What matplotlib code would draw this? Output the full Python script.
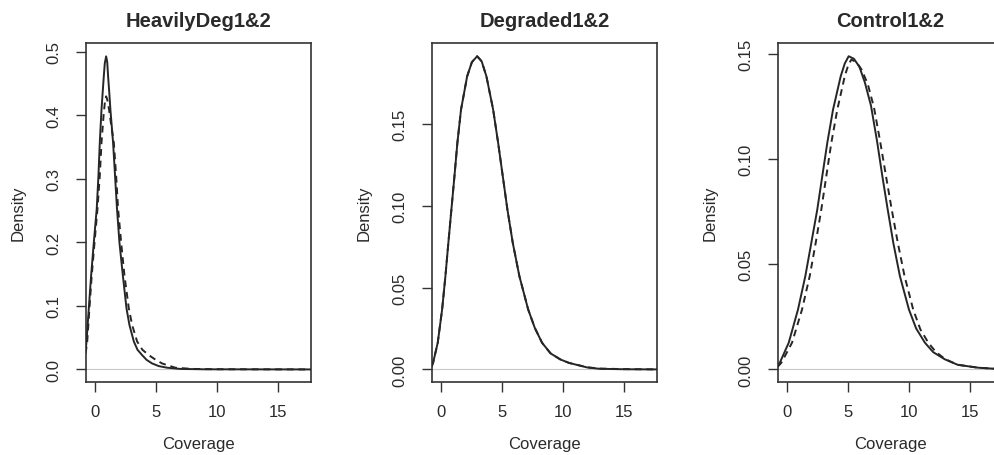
import matplotlib
matplotlib.use("Agg")
import matplotlib.pyplot as plt

plt.rcParams['font.family'] = ['Liberation Sans', 'DejaVu Sans']

# panel titles and y ticks
titles = ["HeavilyDeg1&2", "Degraded1&2", "Control1&2"]
yticks = [[0.0, 0.1, 0.2, 0.3, 0.4, 0.5],
          [0.00, 0.05, 0.10, 0.15],
          [0.00, 0.05, 0.10, 0.15]]
ytick_labels = [["0.0", "0.1", "0.2", "0.3", "0.4", "0.5"],
                ["0.00", "0.05", "0.10", "0.15"],
                ["0.00", "0.05", "0.10", "0.15"]]
xticks = [0, 5, 10, 15]
ylims = [(-0.0198, 0.514), (-0.0077, 0.1997), (-0.006, 0.1553)]

# HeavilyDeg: replicate 1 (solid) and replicate 2 (dashed)
heavy1_x = [-0.75, -0.68, -0.49, -0.3, -0.08, 0.16, 0.30, 0.41, 0.55, 0.66, 0.74, 0.82,
            0.93, 1.02, 1.09, 1.18, 1.28, 1.50, 1.66, 1.82, 2.02, 2.30, 2.60, 2.84,
            3.2, 3.5, 3.88, 4.25, 4.70, 5.25, 5.93, 7.0, 9.0, 17.8]
heavy1_y = [0.028, 0.044, 0.096, 0.148, 0.200, 0.253, 0.305, 0.357, 0.409, 0.440, 0.462, 0.482,
            0.493, 0.484, 0.462, 0.438, 0.409, 0.357, 0.305, 0.253, 0.200, 0.148, 0.096, 0.070,
            0.044, 0.031, 0.0225, 0.0150, 0.0094, 0.0052, 0.0027, 0.0008, 0.0002, 0.0]
heavy2_x = [-0.75, -0.62, -0.44, -0.25, -0.02, 0.22, 0.41, 0.55, 0.72, 0.85, 0.93, 1.02,
            1.17, 1.36, 1.56, 1.75, 1.91, 2.16, 2.43, 2.79, 3.06, 3.47, 3.9, 4.43, 5.0, 5.52,
            6.6, 8.0, 10.0, 17.8]
heavy2_y = [0.025, 0.044, 0.096, 0.148, 0.200, 0.253, 0.305, 0.357, 0.400, 0.425, 0.430, 0.425,
            0.409, 0.383, 0.357, 0.305, 0.253, 0.200, 0.148, 0.096, 0.070, 0.044, 0.031, 0.0225, 0.0150,
            0.0094, 0.0027, 0.0008, 0.0003, 0.0]

# Degraded: both replicates almost identical
deg1_x = [-0.74, -0.63, -0.25, 0.11, 0.38, 0.62, 0.87, 1.12, 1.36, 1.66, 2.16, 2.55,
          2.98, 3.35, 3.74, 4.29, 4.70, 5.08, 5.46, 5.90, 6.44, 7.16, 7.7, 8.30, 9.0,
          9.80, 10.5, 12.0, 13.0, 15.0, 17.8]
deg1_y = [0.002, 0.0041, 0.0163, 0.0367, 0.0571, 0.0774, 0.0978, 0.1182, 0.1386, 0.159, 0.1793, 0.1880,
          0.1916, 0.1885, 0.1793, 0.159, 0.1386, 0.1182, 0.0978, 0.0774, 0.0571, 0.0367, 0.0255, 0.0163,
          0.0098, 0.0061, 0.004, 0.0012, 0.0004, 0.0001, 0.0]
deg2_x = [-0.74, -0.63, -0.25, 0.11, 0.38, 0.62, 0.87, 1.12, 1.36, 1.66, 2.16, 2.55,
          2.98, 3.35, 3.74, 4.29, 4.70, 5.08, 5.46, 5.90, 6.44, 7.16, 7.7, 8.30, 9.0,
          9.80, 10.5, 12.0, 13.0, 15.0, 17.8]
deg2_y = [0.002, 0.0041, 0.0163, 0.0367, 0.0571, 0.0774, 0.0978, 0.1182, 0.1386, 0.159, 0.1793, 0.1880,
          0.1916, 0.1885, 0.1793, 0.159, 0.1386, 0.1182, 0.0978, 0.0774, 0.0571, 0.0367, 0.0255, 0.0163,
          0.0098, 0.0061, 0.004, 0.0013, 0.0005, 0.0002, 0.0]

# Control
ctrl1_x = [-0.75, -0.57, 0.16, 0.92, 1.52, 2.01, 2.50, 2.91, 3.32, 3.79, 4.42, 4.75,
           5.07, 5.5, 5.95, 6.4, 6.9, 7.4, 7.83, 8.27, 8.73, 9.27, 10.01, 10.6, 11.32,
           12.0, 12.95, 14.0, 15.68, 17.05, 17.8]
ctrl1_y = [0.0015, 0.0032, 0.0127, 0.0285, 0.0444, 0.0602, 0.0761, 0.0920, 0.1078, 0.1236, 0.1395, 0.1455,
           0.149, 0.1478, 0.1440, 0.1365, 0.1255, 0.1085, 0.0920, 0.0761, 0.0602, 0.0444, 0.0285, 0.0195,
           0.0127, 0.0082, 0.0048, 0.0022, 0.0008, 0.0003, 0.0002]
ctrl2_x = [-0.75, -0.44, 0.43, 1.25, 1.88, 2.37, 2.83, 3.24, 3.65, 4.14, 4.75, 5.05,
           5.29, 5.7, 6.15, 6.65, 7.15, 7.65, 8.13, 8.6, 9.1, 9.65, 10.36, 10.95, 11.6,
           12.2, 12.95, 14.0, 15.68, 17.05, 17.8]
ctrl2_y = [0.0012, 0.0032, 0.0127, 0.0285, 0.0444, 0.0602, 0.0761, 0.0920, 0.1078, 0.1236, 0.1395, 0.1450,
           0.1474, 0.1462, 0.1425, 0.1355, 0.1245, 0.1085, 0.0920, 0.0761, 0.0602, 0.0444, 0.0285, 0.0190,
           0.0127, 0.0084, 0.0050, 0.0022, 0.0008, 0.0003, 0.0002]

curves = [((heavy1_x, heavy1_y), (heavy2_x, heavy2_y)),
          ((deg1_x, deg1_y), (deg2_x, deg2_y)),
          ((ctrl1_x, ctrl1_y), (ctrl2_x, ctrl2_y))]

fig = plt.figure(figsize=(9.95, 4.56), dpi=100)
lefts = [86 / 995, 432 / 995, 778 / 995]
txt = "#2a2a2a"

for i in range(3):
    ax = fig.add_axes([lefts[i], 1 - 383 / 456, 225 / 995, 339 / 456])
    (sx, sy), (dx, dy) = curves[i]
    ax.axhline(0, color="#c8c8c8", lw=0.8, zorder=1)
    ax.plot(dx, dy, color="#262626", lw=1.4, dashes=(3.5, 2.5), zorder=2,
            solid_joinstyle="round")
    ax.plot(sx, sy, color="#262626", lw=1.4, zorder=3, solid_joinstyle="round")
    ax.set_xlim(-0.72, 17.72)
    ax.set_ylim(*ylims[i])
    ax.set_xticks(xticks)
    ax.set_xticklabels([str(t) for t in xticks])
    ax.set_yticks(yticks[i])
    ax.set_yticklabels(ytick_labels[i], rotation=90, va="center")
    for s in ax.spines.values():
        s.set_color("#333333")
        s.set_linewidth(1.2)
    ax.tick_params(direction="out", length=7, width=1.0, color="#333333",
                   labelsize=12, labelcolor=txt)
    ax.tick_params(axis="x", pad=9)
    ax.tick_params(axis="y", pad=11)
    ax.set_title(titles[i], fontsize=14.5, fontweight="bold", color=txt, pad=12)
    ax.set_xlabel("Coverage", fontsize=12, color=txt)
    ax.set_ylabel("Density", fontsize=12, color=txt)
    ax.xaxis.set_label_coords(0.5, -0.182)
    ax.yaxis.set_label_coords(-0.302, 0.5)
    ax.xaxis.label.set_va("center")
    ax.yaxis.label.set_va("center")

fig.savefig("out.png", dpi=100)
